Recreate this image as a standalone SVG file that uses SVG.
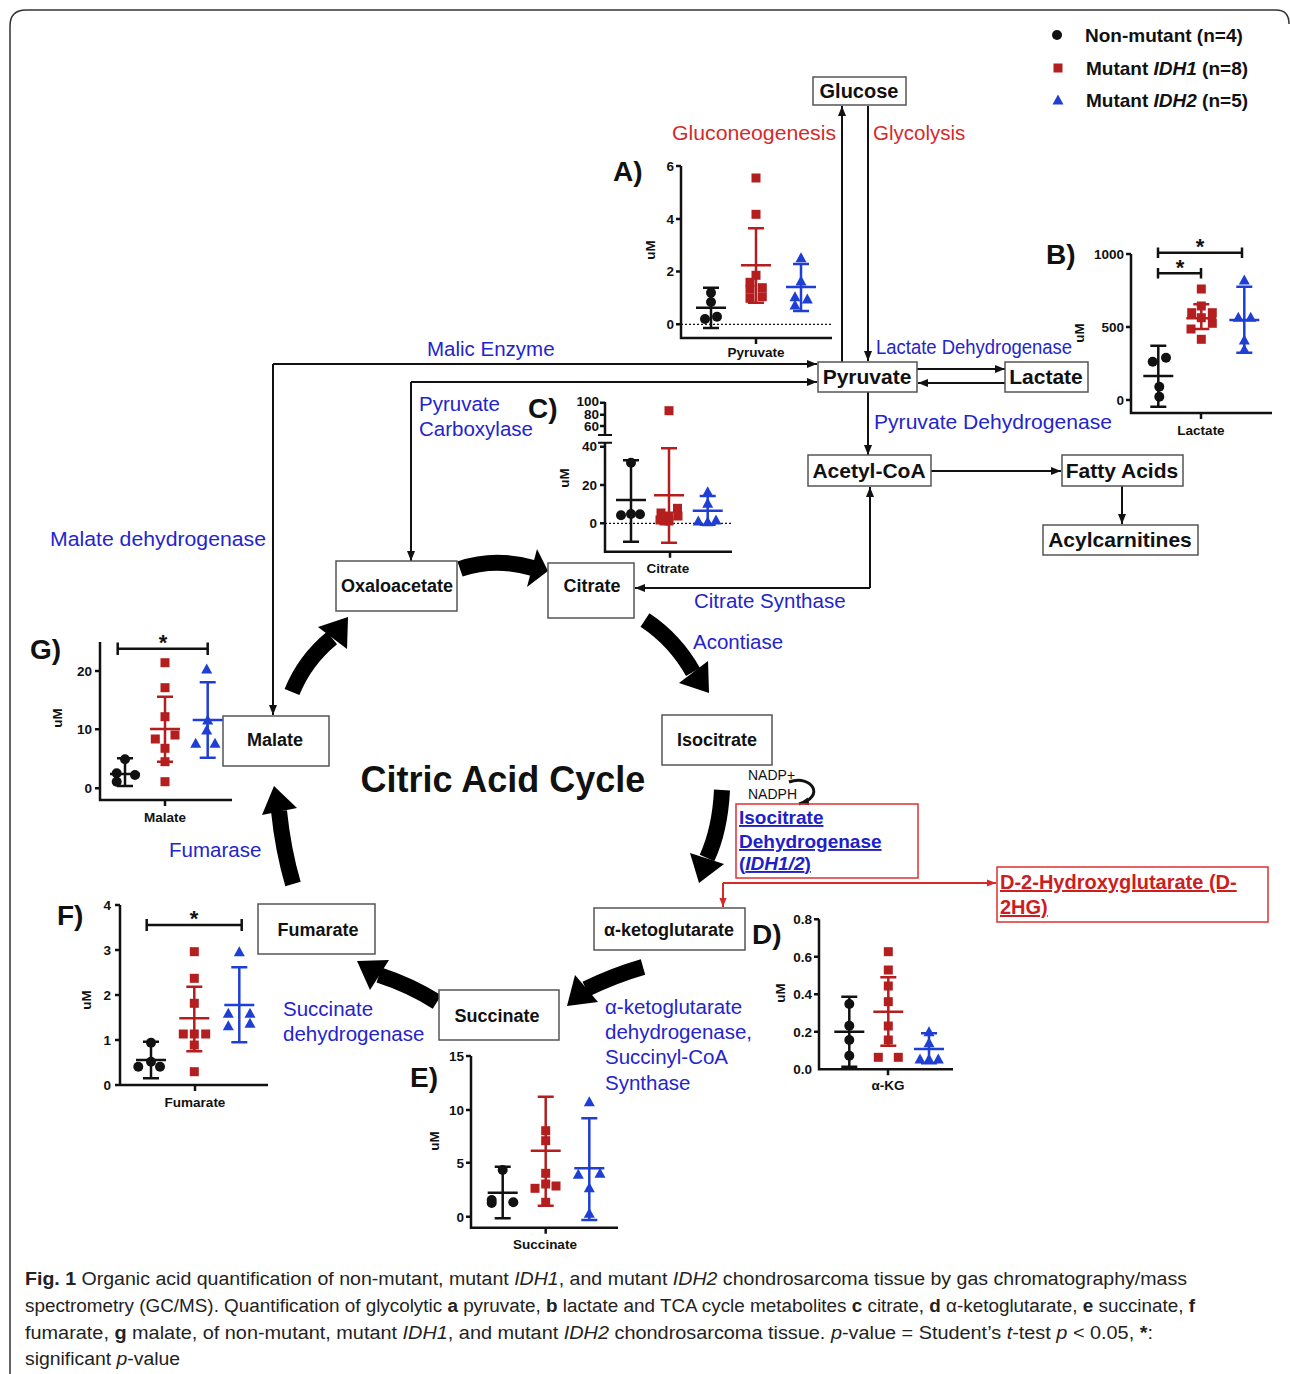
<svg xmlns="http://www.w3.org/2000/svg" xmlns:xlink="http://www.w3.org/1999/xlink" width="1290" height="1374" viewBox="0 0 1290 1374">
<style>
text{font-family:"Liberation Sans",Arial,sans-serif}
.nb{fill:#fff;stroke:#555;stroke-width:1.5}
.nt{font-weight:bold;fill:#111;text-anchor:middle}
.bl{fill:#2424cc;font-size:20.5px}
.rt{fill:#d42a2a;font-size:20.5px}
.ln{fill:none;stroke:#111;stroke-width:2}
.th{fill:none;stroke:#000;stroke-width:16}
.ax{fill:none;stroke:#111;stroke-width:2.5}
.tk{font-weight:bold;font-size:13.5px;fill:#111;text-anchor:end}
.xl{font-weight:bold;font-size:13.5px;fill:#111;text-anchor:middle}
.pl{font-weight:bold;font-size:28px;fill:#111}
.eb{fill:none;stroke-width:2.5}
.k{stroke:#111}.r{stroke:#b41e1e}.u{stroke:#1f3fd4}
.fk{fill:#111}.fr{fill:#b41e1e}.fu{fill:#1f3fd4}
.dt{fill:none;stroke:#111;stroke-width:1.3;stroke-dasharray:2 2}
.st{font-weight:bold;font-size:22px;fill:#111;text-anchor:middle}
.cap{font-size:18px;fill:#222}
</style>
<defs>
<circle id="dot" r="5"/>
<rect id="sq" x="-4.5" y="-4.5" width="9" height="9"/>
<path id="tri" d="M0,-5.5L5.5,4.5L-5.5,4.5Z"/>
<marker id="ah" viewBox="0 0 10 10" refX="10" refY="5" markerWidth="10" markerHeight="10" markerUnits="userSpaceOnUse" orient="auto"><path d="M0,1L10,5L0,9Z" fill="#111"/></marker>
<marker id="ahr" viewBox="0 0 10 10" refX="10" refY="5" markerWidth="9" markerHeight="9" markerUnits="userSpaceOnUse" orient="auto"><path d="M0,1L10,5L0,9Z" fill="#d42a2a"/></marker>
</defs>
<rect width="1290" height="1374" fill="#fff"/>
<path d="M10,1374V26Q10,10 26,10H1276Q1289,10 1289,24" fill="none" stroke="#333" stroke-width="1.5"/>

<!-- legend -->
<g id="legend">
<use href="#dot" x="1057" y="35" class="fk"/>
<text x="1085" y="42" font-weight="bold" font-size="19" fill="#111">Non-mutant (n=4)</text>
<use href="#sq" x="1058" y="68" class="fr"/>
<text x="1086" y="75" font-weight="bold" font-size="19" fill="#111">Mutant <tspan font-style="italic">IDH1</tspan> (n=8)</text>
<use href="#tri" x="1058" y="100" class="fu"/>
<text x="1086" y="107" font-weight="bold" font-size="19" fill="#111">Mutant <tspan font-style="italic">IDH2</tspan> (n=5)</text>
</g>

<!-- connectors -->
<g id="connectors">
<path class="ln" d="M868,106V361" marker-end="url(#ah)"/>
<path class="ln" d="M842,362V106" marker-end="url(#ah)"/>
<path class="ln" d="M917,369H1005" marker-end="url(#ah)"/>
<path class="ln" d="M1005,383H918" marker-end="url(#ah)"/>
<path class="ln" d="M273,364H817" marker-end="url(#ah)"/>
<path class="ln" d="M273,364V715" marker-end="url(#ah)"/>
<path class="ln" d="M411,382H817" marker-end="url(#ah)"/>
<path class="ln" d="M411,382V561" marker-end="url(#ah)"/>
<path class="ln" d="M868,392V455" marker-end="url(#ah)"/>
<path class="ln" d="M931,471H1061" marker-end="url(#ah)"/>
<path class="ln" d="M1122,486V524" marker-end="url(#ah)"/>
<path class="ln" d="M870,588V487" marker-end="url(#ah)"/>
<path class="ln" d="M870,588H635" marker-end="url(#ah)"/>
<path d="M723,883H996" fill="none" stroke="#d42a2a" stroke-width="2" marker-end="url(#ahr)"/>
<path d="M723,883V907" fill="none" stroke="#d42a2a" stroke-width="2" marker-end="url(#ahr)"/>
<path d="M789,782C812,774 826,797 799,804" fill="none" stroke="#111" stroke-width="3" marker-end="url(#ah)"/>
<!-- thick cycle arrows -->
<path class="th" d="M460,569Q495,557 533,568"/><polygon points="537,549 548,571 527,587"/>
<path class="th" d="M645,620Q675,640 693,672"/><polygon points="679,683 709,693 708,661"/>
<path class="th" d="M722,790Q720,830 707,858"/><polygon points="690,853 699,883 724,864"/>
<path class="th" d="M643,967Q615,975 586,989"/><polygon points="575,975 567,1006 598,1002"/>
<path class="th" d="M437,1002Q410,985 379,975"/><polygon points="389,960 357,961 370,990"/>
<path class="th" d="M293,884Q283,850 279,811"/><polygon points="297,808 274,786 262,815"/>
<path class="th" d="M292,692Q305,660 332,638"/><polygon points="347,649 348,617 318,627"/>
</g>

<!-- nodes -->
<g id="glucose"><rect class="nb" x="813" y="77" width="93" height="28"/><text class="nt" x="859" y="98" font-size="20">Glucose</text></g>
<g id="pyruvate"><rect class="nb" x="818" y="362" width="99" height="30"/><text class="nt" x="867" y="384" font-size="21">Pyruvate</text></g>
<g id="lactate"><rect class="nb" x="1005" y="362" width="83" height="30"/><text class="nt" x="1046" y="384" font-size="21">Lactate</text></g>
<g id="acetylcoa"><rect class="nb" x="808" y="455" width="123" height="31"/><text class="nt" x="869" y="478" font-size="21">Acetyl-CoA</text></g>
<g id="fattyacids"><rect class="nb" x="1062" y="455" width="121" height="31"/><text class="nt" x="1122" y="478" font-size="21">Fatty Acids</text></g>
<g id="acylcarnitines"><rect class="nb" x="1043" y="525" width="155" height="30"/><text class="nt" x="1120" y="547" font-size="21">Acylcarnitines</text></g>
<g id="oxaloacetate"><rect class="nb" x="336" y="561" width="121" height="50"/><text class="nt" x="397" y="592" font-size="18">Oxaloacetate</text></g>
<g id="citrate"><rect class="nb" x="548" y="563" width="86" height="55"/><text class="nt" x="592" y="592" font-size="18">Citrate</text></g>
<g id="isocitrate"><rect class="nb" x="662" y="715" width="110" height="50"/><text class="nt" x="717" y="746" font-size="18">Isocitrate</text></g>
<g id="aketoglutarate"><rect class="nb" x="594" y="908" width="151" height="42"/><text class="nt" x="669" y="936" font-size="18">α-ketoglutarate</text></g>
<g id="succinate"><rect class="nb" x="439" y="990" width="120" height="50"/><text class="nt" x="497" y="1022" font-size="18">Succinate</text></g>
<g id="fumarate"><rect class="nb" x="258" y="904" width="117" height="50"/><text class="nt" x="318" y="936" font-size="18">Fumarate</text></g>
<g id="malate"><rect class="nb" x="223" y="716" width="106" height="50"/><text class="nt" x="275" y="746" font-size="18">Malate</text></g>
<g id="idh"><rect x="736" y="804" width="182" height="74" fill="none" stroke="#e03030" stroke-width="1.5"/>
<text x="739" y="824" font-size="19" font-weight="bold" fill="#2020c8" text-decoration="underline">Isocitrate</text>
<text x="739" y="848" font-size="19" font-weight="bold" fill="#2020c8" text-decoration="underline">Dehydrogenase</text>
<text x="739" y="870" font-size="19" font-weight="bold" fill="#2020c8" text-decoration="underline">(<tspan font-style="italic">IDH1/2</tspan>)</text></g>
<g id="d2hg"><rect x="997" y="867" width="271" height="55" fill="none" stroke="#e03030" stroke-width="1.5"/>
<text x="1000" y="889" font-size="20" font-weight="bold" fill="#cc1e1e" text-decoration="underline">D-2-Hydroxyglutarate (D-</text>
<text x="1000" y="914" font-size="20" font-weight="bold" fill="#cc1e1e" text-decoration="underline">2HG)</text></g>

<!-- labels -->
<g id="labels">
<text class="rt" x="836" y="140" text-anchor="end" textLength="164" lengthAdjust="spacingAndGlyphs">Gluconeogenesis</text>
<text class="rt" x="873" y="140">Glycolysis</text>
<text class="bl" x="427" y="356">Malic Enzyme</text>
<text class="bl" x="419" y="411">Pyruvate</text>
<text class="bl" x="419" y="436">Carboxylase</text>
<text class="bl" x="50" y="546" textLength="216" lengthAdjust="spacingAndGlyphs">Malate dehydrogenase</text>
<text class="bl" x="876" y="354" font-size="17" textLength="196" lengthAdjust="spacingAndGlyphs">Lactate Dehydrogenase</text>
<text class="bl" x="874" y="429" font-size="21" textLength="238" lengthAdjust="spacingAndGlyphs">Pyruvate Dehydrogenase</text>
<text class="bl" x="694" y="608">Citrate Synthase</text>
<text class="bl" x="693" y="649">Acontiase</text>
<text class="bl" x="169" y="857">Fumarase</text>
<text class="bl" x="283" y="1016">Succinate</text>
<text class="bl" x="283" y="1041">dehydrogenase</text>
<text class="bl" x="605" y="1014">α-ketoglutarate</text>
<text class="bl" x="605" y="1039">dehydrogenase,</text>
<text class="bl" x="605" y="1064">Succinyl-CoA</text>
<text class="bl" x="605" y="1090">Synthase</text>
<text x="748" y="780" font-size="14" fill="#111">NADP+</text>
<text x="748" y="799" font-size="14" fill="#111">NADPH</text>
<text x="503" y="792" font-size="36" font-weight="bold" fill="#111" text-anchor="middle">Citric Acid Cycle</text>
</g>

<!-- Plot A -->
<g id="plotA">
<text class="pl" x="613" y="181">A)</text>
<path class="ax" d="M681,166V338H832M676,166H681M676,218.9H681M676,271.6H681M676,324.3H681M756,338V344"/>
<path class="dt" d="M681,324.3H832"/>
<text class="tk" x="674" y="171">6</text><text class="tk" x="674" y="224">4</text><text class="tk" x="674" y="276">2</text><text class="tk" x="674" y="329">0</text>
<text class="xl" x="756" y="357">Pyruvate</text>
<text class="xl" transform="translate(655,250) rotate(-90)">uM</text>
<path class="eb k" d="M696,307.7H726M711,287.7V328M703,287.7H719M703,328H719"/>
<g class="fk"><use href="#dot" x="711" y="292.7"/><use href="#dot" x="711" y="302"/><use href="#dot" x="705" y="319"/><use href="#dot" x="717" y="316.7"/></g>
<path class="eb r" d="M741,265.3H771M756,228.3V302.7M748,228.3H764M748,302.7H764"/>
<g class="fr"><use href="#sq" x="756" y="178"/><use href="#sq" x="756" y="214.3"/><use href="#sq" x="756" y="275.3"/><use href="#sq" x="750" y="282.3"/><use href="#sq" x="750" y="289.3"/><use href="#sq" x="750" y="298.3"/><use href="#sq" x="762.3" y="287.7"/><use href="#sq" x="762.3" y="296.7"/></g>
<path class="eb u" d="M786,287H816M801,264V311M793,264H809M793,311H809"/>
<g class="fu"><use href="#tri" x="801" y="257.7"/><use href="#tri" x="801" y="281"/><use href="#tri" x="795" y="296.7"/><use href="#tri" x="795" y="305"/><use href="#tri" x="807.3" y="299"/></g>
</g>

<!-- Plot B -->
<g id="plotB">
<text class="pl" x="1046" y="264">B)</text>
<path class="ax" d="M1131,254V413H1272M1126,254H1131M1126,327H1131M1126,400H1131M1201,413V419"/>
<text class="tk" x="1124" y="259">1000</text><text class="tk" x="1124" y="332">500</text><text class="tk" x="1124" y="405">0</text>
<text class="xl" x="1201" y="435">Lactate</text>
<text class="xl" transform="translate(1084,333) rotate(-90)">uM</text>
<path class="ax" d="M1158,252.7H1242M1158,247.5V258M1242,247.5V258M1158,273.3H1201M1158,268V278.5M1201,268V278.5"/>
<text class="st" x="1200" y="254">*</text><text class="st" x="1180" y="275">*</text>
<path class="eb k" d="M1143.3,376H1173.3M1158.3,345.7V406.7M1150.3,345.7H1166.3M1150.3,406.7H1166.3"/>
<g class="fk"><use href="#dot" x="1152.7" y="361.7"/><use href="#dot" x="1166" y="357.7"/><use href="#dot" x="1159.3" y="386.7"/><use href="#dot" x="1159.3" y="396.7"/></g>
<path class="eb r" d="M1186.3,318.3H1216.3M1201.3,304.3V329M1193.3,304.3H1209.3M1193.3,329H1209.3"/>
<g class="fr"><use href="#sq" x="1201.3" y="289"/><use href="#sq" x="1201.3" y="306"/><use href="#sq" x="1201.3" y="317.7"/><use href="#sq" x="1191.7" y="312.7"/><use href="#sq" x="1212.3" y="312.7"/><use href="#sq" x="1191" y="329"/><use href="#sq" x="1212.3" y="323.3"/><use href="#sq" x="1201.3" y="339.3"/></g>
<path class="eb u" d="M1229.3,320H1259.3M1244.3,286.7V352.7M1236.3,286.7H1252.3M1236.3,352.7H1252.3"/>
<g class="fu"><use href="#tri" x="1244.3" y="280"/><use href="#tri" x="1238.3" y="317.3"/><use href="#tri" x="1250.7" y="317.3"/><use href="#tri" x="1244.3" y="340"/><use href="#tri" x="1244.3" y="349.3"/></g>
</g>

<!-- Plot C -->
<g id="plotC">
<text class="pl" x="528" y="418">C)</text>
<path class="ax" d="M605,402V435M605,443V551.7H732M600,402.7H605M600,414.7H605M600,426H605M600,446.7H605M600,485H605M600,523.3H605M670,551.7V557.7"/>
<path d="M598,435H612M598,442.7H612" stroke="#111" stroke-width="2"/>
<path class="dt" d="M605,523.3H732"/>
<text class="tk" x="599" y="406" font-size="10.8">100</text><text class="tk" x="599" y="418.5" font-size="10.8">80</text><text class="tk" x="599" y="431" font-size="10.8">60</text><text class="tk" x="597" y="451">40</text><text class="tk" x="597" y="490">20</text><text class="tk" x="597" y="528">0</text>
<text class="xl" x="668" y="573">Citrate</text>
<text class="xl" transform="translate(569,478) rotate(-90)">uM</text>
<path class="eb k" d="M616,500H646M631,460.3V541.7M623,460.3H639M623,541.7H639"/>
<g class="fk"><use href="#dot" x="631" y="462.7"/><use href="#dot" x="631" y="514"/><use href="#dot" x="621" y="515.3"/><use href="#dot" x="640" y="514.3"/></g>
<path class="eb r" d="M654,495.3H684M669,448.3V542.7M661,448.3H677M661,542.7H677"/>
<g class="fr"><use href="#sq" x="669" y="410.7"/><use href="#sq" x="660" y="520"/><use href="#sq" x="661" y="513"/><use href="#sq" x="669" y="516"/><use href="#sq" x="677.5" y="508.3"/><use href="#sq" x="678" y="516"/><use href="#sq" x="669" y="521"/><use href="#sq" x="664" y="521"/></g>
<path class="eb u" d="M692.7,510.7H722.7M707.7,496V524.7M699.7,496H715.7M699.7,524.7H715.7"/>
<g class="fu"><use href="#tri" x="707.7" y="491.7"/><use href="#tri" x="707.7" y="503.3"/><use href="#tri" x="698.3" y="521"/><use href="#tri" x="707.7" y="521.7"/><use href="#tri" x="716" y="520"/></g>
</g>

<!-- Plot D -->
<g id="plotD">
<text class="pl" x="752" y="944">D)</text>
<path class="ax" d="M819,919.3V1069.3H953M814,919.3H819M814,956.7H819M814,994.3H819M814,1031.7H819M888,1069.3V1075.3"/>
<text class="tk" x="812" y="924">0.8</text><text class="tk" x="812" y="962">0.6</text><text class="tk" x="812" y="999">0.4</text><text class="tk" x="812" y="1037">0.2</text><text class="tk" x="812" y="1074">0.0</text>
<text class="xl" x="888" y="1090">α-KG</text>
<text class="xl" transform="translate(785,993) rotate(-90)">uM</text>
<path class="eb k" d="M834.3,1031.7H864.3M849.3,996.7V1066.7M841.3,996.7H857.3M841.3,1066.7H857.3"/>
<g class="fk"><use href="#dot" x="849.3" y="1004"/><use href="#dot" x="849.3" y="1025.7"/><use href="#dot" x="849.3" y="1040"/><use href="#dot" x="849.3" y="1055.7"/></g>
<path class="eb r" d="M873.3,1011.7H903.3M888.3,977.3V1045.7M880.3,977.3H896.3M880.3,1045.7H896.3"/>
<g class="fr"><use href="#sq" x="888.3" y="951.7"/><use href="#sq" x="888.3" y="970"/><use href="#sq" x="888.3" y="986"/><use href="#sq" x="888.3" y="1001.7"/><use href="#sq" x="888.3" y="1026"/><use href="#sq" x="888.3" y="1040"/><use href="#sq" x="878.3" y="1057.3"/><use href="#sq" x="898.3" y="1057.3"/></g>
<path class="eb u" d="M914,1049H944M929,1033.3V1063.3M921,1033.3H937M921,1063.3H937"/>
<g class="fu"><use href="#tri" x="929" y="1031.7"/><use href="#tri" x="929" y="1042.7"/><use href="#tri" x="920" y="1059"/><use href="#tri" x="929" y="1059"/><use href="#tri" x="938.3" y="1059"/></g>
</g>

<!-- Plot E -->
<g id="plotE">
<text class="pl" x="410" y="1087">E)</text>
<path class="ax" d="M471,1056V1227.7H618M466,1056H471M466,1110H471M466,1162.7H471M466,1216.7H471M545.7,1227.7V1233.7"/>
<text class="tk" x="464" y="1061">15</text><text class="tk" x="464" y="1115">10</text><text class="tk" x="464" y="1168">5</text><text class="tk" x="464" y="1222">0</text>
<text class="xl" x="545" y="1249">Succinate</text>
<text class="xl" transform="translate(439,1141) rotate(-90)">uM</text>
<path class="eb k" d="M487.7,1192.7H517.7M502.7,1166.7V1218.3M494.7,1166.7H510.7M494.7,1218.3H510.7"/>
<g class="fk"><use href="#dot" x="502.7" y="1170"/><use href="#dot" x="491.7" y="1200"/><use href="#dot" x="491.7" y="1203"/><use href="#dot" x="513.3" y="1202.3"/></g>
<path class="eb r" d="M530.7,1150.7H560.7M545.7,1096.7V1205.7M537.7,1096.7H553.7M537.7,1205.7H553.7"/>
<g class="fr"><use href="#sq" x="545.7" y="1130.7"/><use href="#sq" x="545.7" y="1140.7"/><use href="#sq" x="545.7" y="1173.3"/><use href="#sq" x="545.7" y="1184"/><use href="#sq" x="535" y="1188.3"/><use href="#sq" x="556" y="1186"/><use href="#sq" x="545.7" y="1202.3"/></g>
<path class="eb u" d="M574.3,1168.3H604.3M589.3,1118.3V1220M581.3,1118.3H597.3M581.3,1220H597.3"/>
<g class="fu"><use href="#tri" x="589.3" y="1101.7"/><use href="#tri" x="578.3" y="1174.3"/><use href="#tri" x="600" y="1173.3"/><use href="#tri" x="589.3" y="1187.7"/><use href="#tri" x="589.3" y="1213.3"/></g>
</g>

<!-- Plot F -->
<g id="plotF">
<text class="pl" x="57" y="925">F)</text>
<path class="ax" d="M120,905V1085H268M115,905H120M115,950H120M115,995H120M115,1040H120M115,1085H120M195,1085V1091"/>
<text class="tk" x="111" y="910">4</text><text class="tk" x="111" y="955">3</text><text class="tk" x="111" y="1000">2</text><text class="tk" x="111" y="1045">1</text><text class="tk" x="111" y="1090">0</text>
<text class="xl" x="195" y="1107">Fumarate</text>
<text class="xl" transform="translate(91,1000) rotate(-90)">uM</text>
<path class="ax" d="M146.7,925H241.7M146.7,919V931M241.7,919V931"/>
<text class="st" x="194" y="926">*</text>
<path class="eb k" d="M136,1060H166M151,1041.7V1078.3M143,1041.7H159M143,1078.3H159"/>
<g class="fk"><use href="#dot" x="151" y="1042.7"/><use href="#dot" x="138.3" y="1066.7"/><use href="#dot" x="151" y="1061.7"/><use href="#dot" x="160" y="1066.7"/></g>
<path class="eb r" d="M179.3,1018.3H209.3M194.3,986.7V1051.3M186.3,986.7H202.3M186.3,1051.3H202.3"/>
<g class="fr"><use href="#sq" x="194.3" y="951.7"/><use href="#sq" x="194.3" y="978.3"/><use href="#sq" x="194.3" y="1003.3"/><use href="#sq" x="183.3" y="1034"/><use href="#sq" x="194.3" y="1034"/><use href="#sq" x="205.7" y="1034"/><use href="#sq" x="194.3" y="1045"/><use href="#sq" x="194.3" y="1071.7"/></g>
<path class="eb u" d="M224.3,1005H254.3M239.3,967.3V1042.3M231.3,967.3H247.3M231.3,1042.3H247.3"/>
<g class="fu"><use href="#tri" x="239.3" y="951.7"/><use href="#tri" x="228.3" y="1013.3"/><use href="#tri" x="250" y="1013.3"/><use href="#tri" x="228.3" y="1025.7"/><use href="#tri" x="250" y="1023.3"/></g>
</g>

<!-- Plot G -->
<g id="plotG">
<text class="pl" x="30" y="659">G)</text>
<path class="ax" d="M100,642V800H232M95,671H100M95,729.3H100M95,788.3H100M165,800V806"/>
<text class="tk" x="92" y="676">20</text><text class="tk" x="92" y="734">10</text><text class="tk" x="92" y="793">0</text>
<text class="xl" x="165" y="822">Malate</text>
<text class="xl" transform="translate(62,718) rotate(-90)">uM</text>
<path class="ax" d="M117.7,648.7H207.7M117.7,642.5V655M207.7,642.5V655"/>
<text class="st" x="163" y="650">*</text>
<path class="eb k" d="M110,774H140M125,758.3V786M117,758.3H133M117,786H133"/>
<g class="fk"><use href="#dot" x="125" y="759.3"/><use href="#dot" x="116.7" y="773.3"/><use href="#dot" x="116.7" y="781.7"/><use href="#dot" x="135" y="775"/></g>
<path class="eb r" d="M150,729H180M165,696.7V761.7M157,696.7H173M157,761.7H173"/>
<g class="fr"><use href="#sq" x="165" y="662.7"/><use href="#sq" x="165" y="687.7"/><use href="#sq" x="165" y="716.7"/><use href="#sq" x="155.3" y="739"/><use href="#sq" x="175" y="735"/><use href="#sq" x="165" y="748.3"/><use href="#sq" x="165" y="761.7"/><use href="#sq" x="165" y="781.7"/></g>
<path class="eb u" d="M192.7,720H222.7M207.7,682.3V757.7M199.7,682.3H215.7M199.7,757.7H215.7"/>
<g class="fu"><use href="#tri" x="206.7" y="669"/><use href="#tri" x="206.7" y="730"/><use href="#tri" x="195.7" y="743.3"/><use href="#tri" x="215" y="743.3"/><use href="#tri" x="207.7" y="720"/></g>
</g>

<!-- caption -->
<g id="caption" class="cap">
<text x="25" y="1285" textLength="1162" lengthAdjust="spacingAndGlyphs"><tspan font-weight="bold">Fig. 1</tspan> Organic acid quantification of non-mutant, mutant <tspan font-style="italic">IDH1</tspan>, and mutant <tspan font-style="italic">IDH2</tspan> chondrosarcoma tissue by gas chromatography/mass</text>
<text x="25" y="1312" textLength="1170" lengthAdjust="spacingAndGlyphs">spectrometry (GC/MS). Quantification of glycolytic <tspan font-weight="bold">a</tspan> pyruvate, <tspan font-weight="bold">b</tspan> lactate and TCA cycle metabolites <tspan font-weight="bold">c</tspan> citrate, <tspan font-weight="bold">d</tspan> α-ketoglutarate, <tspan font-weight="bold">e</tspan> succinate, <tspan font-weight="bold">f</tspan></text>
<text x="25" y="1339" textLength="1128" lengthAdjust="spacingAndGlyphs">fumarate, <tspan font-weight="bold">g</tspan> malate, of non-mutant, mutant <tspan font-style="italic">IDH1</tspan>, and mutant <tspan font-style="italic">IDH2</tspan> chondrosarcoma tissue. <tspan font-style="italic">p</tspan>-value = Student’s <tspan font-style="italic">t</tspan>-test <tspan font-style="italic">p</tspan> &lt; 0.05, <tspan font-weight="bold">*</tspan>:</text>
<text x="25" y="1365" textLength="155" lengthAdjust="spacingAndGlyphs">significant <tspan font-style="italic">p</tspan>-value</text>
</g>
</svg>
